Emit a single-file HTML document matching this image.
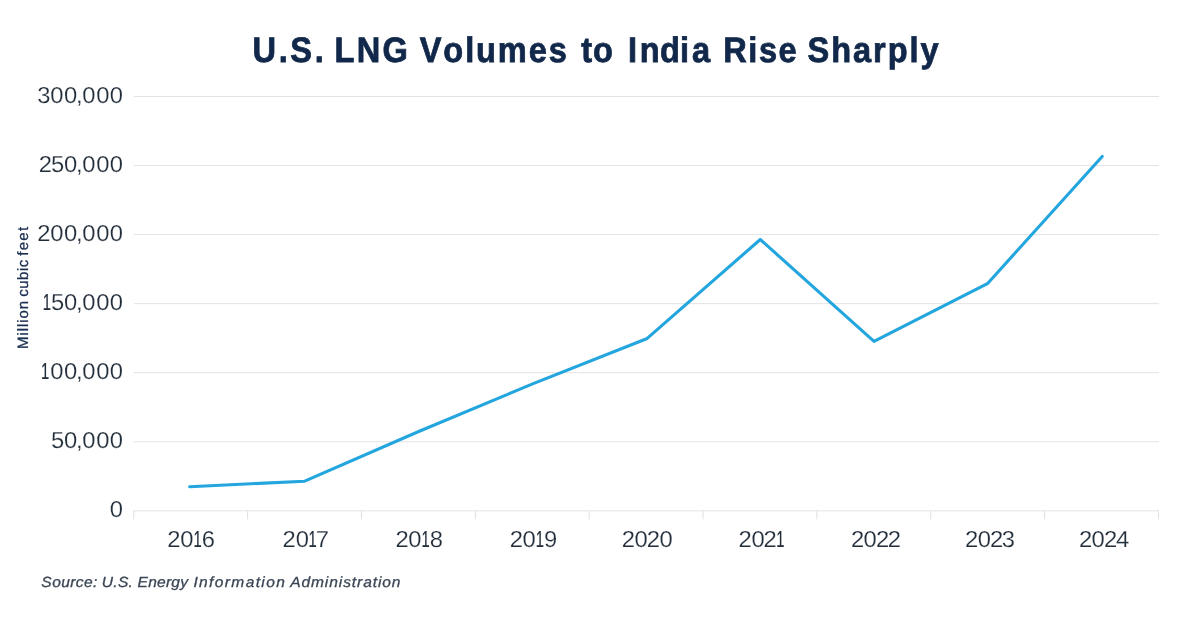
<!DOCTYPE html>
<html lang="en">
<head>
<meta charset="utf-8">
<title>U.S. LNG Volumes to India Rise Sharply</title>
<style>
html,body{margin:0;padding:0;background:#fff;}
body{width:1200px;height:627px;overflow:hidden;}
svg{display:block;}
text{font-family:"Liberation Sans",sans-serif;font-kerning:none;white-space:pre;text-rendering:geometricPrecision;}
.title{font-weight:700;font-size:35.4px;fill:#11284a;stroke:#11284a;stroke-width:0.8px;stroke-linejoin:miter;}
.num{font-size:23.1px;fill:#222d3a;stroke:#ffffff;stroke-width:0.2px;}
.num .one{stroke:#222d3a;stroke-width:0.2px;}
.ytitle{font-size:15.0px;font-weight:400;fill:#1b2f50;stroke:#1b2f50;stroke-width:0.3px;stroke-linejoin:round;}
.src{font-size:14.7px;font-style:italic;fill:#3a4554;stroke:#3a4554;stroke-width:0.3px;}
</style>
</head>
<body>
<svg width="1200" height="627" viewBox="0 0 1200 627">
<rect width="1200" height="627" fill="#ffffff"/>
<g class="title" transform="translate(0 61.7) scale(0.92 1)">
<text y="0"><tspan x="274.40" style="letter-spacing:2.920px">U.S.</tspan> <tspan x="363.50" style="letter-spacing:2.583px">LNG</tspan> <tspan x="456.28" style="letter-spacing:2.050px">Volumes</tspan> <tspan x="631.71 644.68">to</tspan> <tspan x="682.69 695.42 717.35 739.01 752.13">India</tspan> <tspan x="786.11" style="letter-spacing:1.702px">Rise</tspan> <tspan x="877.78" style="letter-spacing:2.093px">Sharply</tspan></text>
</g>
<g stroke="#e3e3e3" stroke-width="1" fill="none">
<line x1="134" y1="96.5" x2="1159" y2="96.5"/>
<line x1="134" y1="165.55" x2="1159" y2="165.55"/>
<line x1="134" y1="234.6" x2="1159" y2="234.6"/>
<line x1="134" y1="303.65" x2="1159" y2="303.65"/>
<line x1="134" y1="372.7" x2="1159" y2="372.7"/>
<line x1="134" y1="441.75" x2="1159" y2="441.75"/>
</g>
<g stroke="#e0e0e0" stroke-width="1" fill="none">
<line x1="133.3" y1="510.8" x2="1159" y2="510.8" stroke="#e4e4e4"/>
<line x1="133.75" y1="511" x2="133.75" y2="519.3"/>
<line x1="247.61" y1="511" x2="247.61" y2="519.3"/>
<line x1="361.46" y1="511" x2="361.46" y2="519.3"/>
<line x1="475.32" y1="511" x2="475.32" y2="519.3"/>
<line x1="589.17" y1="511" x2="589.17" y2="519.3"/>
<line x1="703.03" y1="511" x2="703.03" y2="519.3"/>
<line x1="816.88" y1="511" x2="816.88" y2="519.3"/>
<line x1="930.74" y1="511" x2="930.74" y2="519.3"/>
<line x1="1044.59" y1="511" x2="1044.59" y2="519.3"/>
<line x1="1158.45" y1="511" x2="1158.45" y2="519.3"/>
</g>
<g class="num" transform="scale(1.03 1)">
<text class="ylab" y="102.8"><tspan x="36.17 48.84 62.17 73.90 79.98 93.33 106.68">300,000</tspan></text>
<text class="ylab" y="171.8"><tspan x="37.73 49.62 62.17 73.90 79.98 93.33 106.68">250,000</tspan></text>
<text class="ylab" y="240.8"><tspan x="36.29 48.84 62.17 73.90 79.98 93.33 106.68">200,000</tspan></text>
<text class="ylab" y="309.8"><tspan x="41.55" textLength="7.97" lengthAdjust="spacingAndGlyphs" class="one">1</tspan><tspan x="49.57 62.17 73.90 79.98 93.33 106.68">50,000</tspan></text>
<text class="ylab" y="378.8"><tspan x="39.92" textLength="7.97" lengthAdjust="spacingAndGlyphs" class="one">1</tspan><tspan x="48.84 62.17 73.90 79.98 93.33 106.68">00,000</tspan></text>
<text class="ylab" y="447.8"><tspan x="49.62 62.17 73.90 79.98 93.33 106.68">50,000</tspan></text>
<text class="ylab" y="516.8"><tspan x="106.68">0</tspan></text>
<text class="xlab" y="547.0"><tspan x="162.39 174.98">20</tspan><tspan x="187.96" textLength="7.97" lengthAdjust="spacingAndGlyphs" class="one">1</tspan><tspan x="195.95">6</tspan></text>
<text class="xlab" y="547.0"><tspan x="274.35 287.02">20</tspan><tspan x="299.61" textLength="7.97" lengthAdjust="spacingAndGlyphs" class="one">1</tspan><tspan x="306.60">7</tspan></text>
<text class="xlab" y="547.0"><tspan x="383.96 396.44">20</tspan><tspan x="409.32" textLength="7.97" lengthAdjust="spacingAndGlyphs" class="one">1</tspan><tspan x="417.34">8</tspan></text>
<text class="xlab" y="547.0"><tspan x="494.94 507.39">20</tspan><tspan x="520.09" textLength="7.97" lengthAdjust="spacingAndGlyphs" class="one">1</tspan><tspan x="528.19">9</tspan></text>
<text class="xlab" y="547.0"><tspan x="603.67 616.00 628.04 640.40">2020</tspan></text>
<text class="xlab" y="547.0"><tspan x="717.07 729.55 741.34">202</tspan><tspan x="753.59" textLength="7.97" lengthAdjust="spacingAndGlyphs" class="one">1</tspan></text>
<text class="xlab" y="547.0"><tspan x="826.12 838.48 850.52 861.83">2022</tspan></text>
<text class="xlab" y="547.0"><tspan x="936.80 949.16 961.20 972.67">2023</tspan></text>
<text class="xlab" y="547.0"><tspan x="1047.48 1059.84 1071.88 1083.46">2024</tspan></text>
</g>
<g class="ytitle" transform="translate(28.3 347.7) rotate(-90)">
<text y="0"><tspan x="-1.23" style="letter-spacing:0.899px">Million</tspan> <tspan x="50.86" style="letter-spacing:0.529px">cubic</tspan> <tspan x="91.99" style="letter-spacing:1.268px">feet</tspan></text>
</g>
<g class="src" transform="translate(0 587.4) scale(1.06 1)">
<text y="0"><tspan x="39.02" style="letter-spacing:0.372px">Source:</tspan> <tspan x="96.07" style="letter-spacing:0.242px">U.S.</tspan> <tspan x="129.74" style="letter-spacing:0.212px">Energy</tspan> <tspan x="182.44" style="letter-spacing:1.281px">Information</tspan> <tspan x="273.74" style="letter-spacing:0.850px">Administration</tspan></text>
</g>
<polyline points="189.6,486.7 304.7,481.2 418.7,431.5 532.6,383.9 646.6,338.8 760.3,239.5 874.0,341.3 987.4,283.7 1102.2,156.5" fill="none" stroke="#23a5de" stroke-width="3.1" stroke-linecap="round" stroke-linejoin="round"/>
</svg>
</body>
</html>
